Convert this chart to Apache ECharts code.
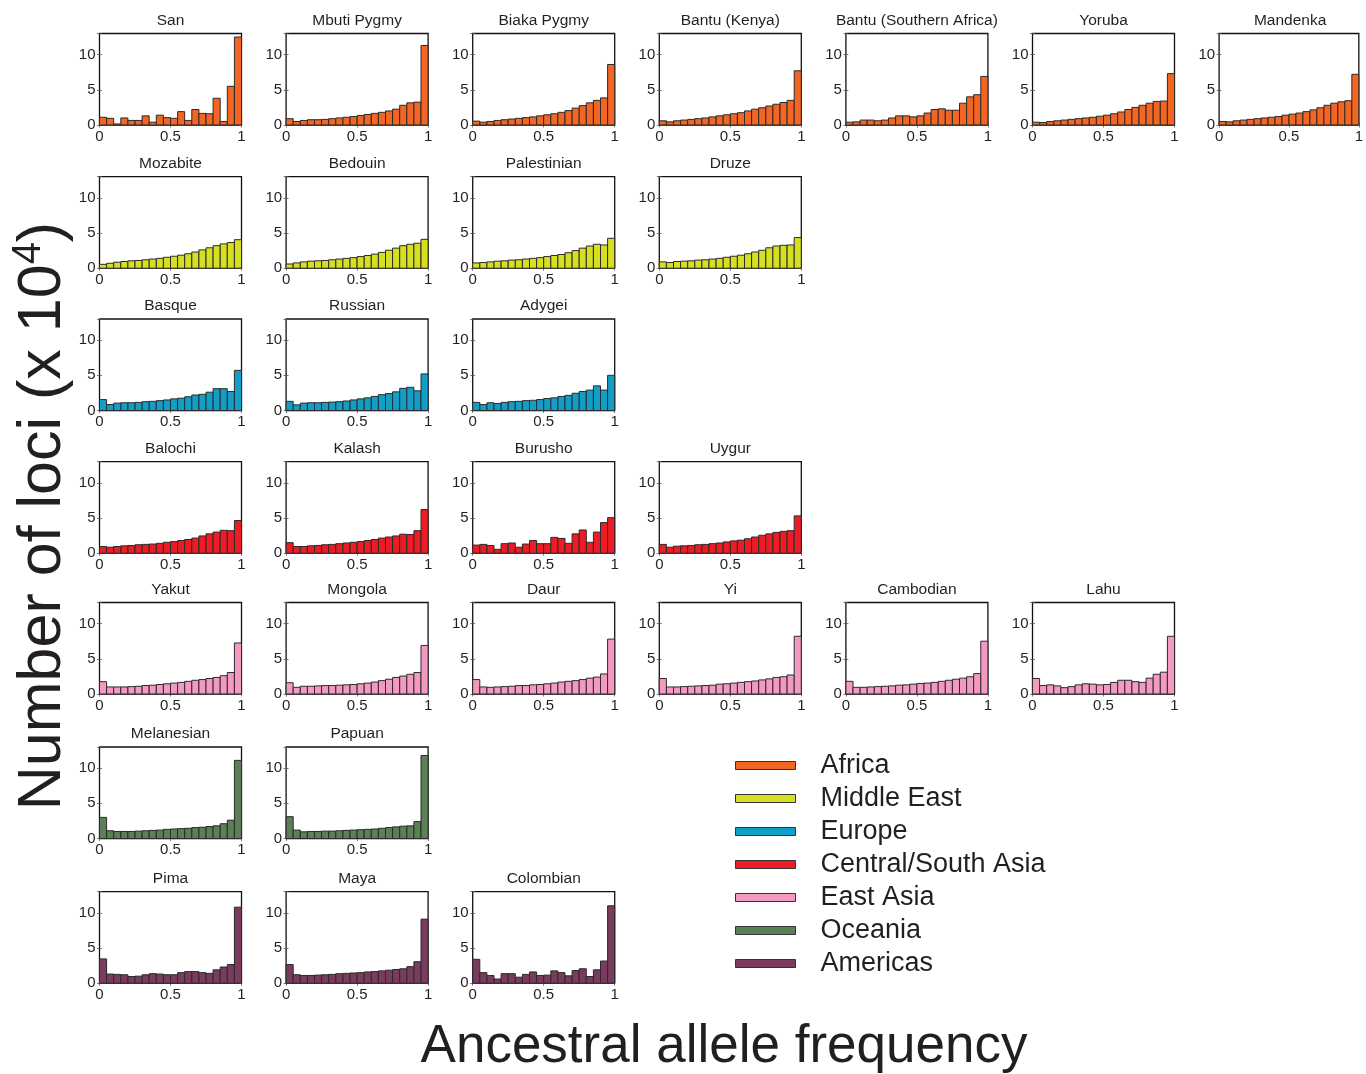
<!DOCTYPE html>
<html><head><meta charset="utf-8">
<script src="https://cdn.jsdelivr.net/npm/echarts@6/dist/echarts.min.js"></script>
<style>html,body{margin:0;padding:0;background:#fff}#c{width:1366px;height:1074px}</style>
</head><body><div id="c"></div>
<script>
// ---- data: number of loci (x 10^4) per ancestral allele frequency bin (20 bins over 0..1) ----
const san        = [1.1,0.95,0.15,1.0,0.65,0.65,1.3,0.4,1.4,1.05,0.95,1.9,0.65,2.2,1.65,1.6,3.8,0.5,5.5,12.5];
const mbutiPygmy = [0.9,0.5,0.65,0.75,0.75,0.8,0.9,1.0,1.1,1.2,1.35,1.5,1.65,1.8,2.0,2.25,2.8,3.15,3.25,11.3];
const biakaPygmy = [0.55,0.4,0.5,0.65,0.75,0.85,0.95,1.05,1.15,1.3,1.45,1.6,1.8,2.05,2.4,2.75,3.15,3.5,3.85,8.6];
const bantuKenya = [0.6,0.45,0.6,0.7,0.8,0.9,1.0,1.15,1.3,1.45,1.6,1.75,2.0,2.25,2.45,2.7,2.95,3.2,3.5,7.7];
const bantuSouth = [0.4,0.45,0.7,0.7,0.6,0.7,1.0,1.3,1.3,1.15,1.3,1.7,2.2,2.3,2.1,2.1,3.1,4.0,4.3,6.9];
const yoruba     = [0.4,0.35,0.5,0.6,0.7,0.8,0.9,1.0,1.1,1.25,1.4,1.6,1.85,2.2,2.5,2.8,3.1,3.35,3.4,7.3];
const mandenka   = [0.5,0.45,0.6,0.7,0.8,0.9,1.0,1.1,1.2,1.4,1.55,1.7,1.9,2.15,2.45,2.8,3.1,3.3,3.45,7.2];
const mozabite   = [0.55,0.7,0.85,0.95,1.05,1.1,1.2,1.3,1.4,1.55,1.7,1.85,2.05,2.3,2.6,2.9,3.2,3.45,3.65,4.05];
const bedouin    = [0.6,0.75,0.9,1.0,1.05,1.1,1.2,1.3,1.4,1.5,1.65,1.8,2.0,2.25,2.55,2.85,3.2,3.4,3.55,4.1];
const palestinian= [0.75,0.8,0.9,1.0,1.05,1.15,1.2,1.3,1.4,1.5,1.65,1.8,1.95,2.2,2.5,2.85,3.15,3.4,3.3,4.25];
const druze      = [0.9,0.8,0.95,1.0,1.05,1.15,1.2,1.3,1.4,1.55,1.7,1.85,2.05,2.3,2.55,2.9,3.15,3.25,3.3,4.35];
const basque     = [1.55,0.85,1.05,1.1,1.1,1.15,1.25,1.3,1.4,1.5,1.65,1.75,1.95,2.2,2.3,2.6,3.1,3.1,2.7,5.7];
const russian    = [1.3,0.8,1.05,1.1,1.1,1.15,1.2,1.25,1.35,1.5,1.65,1.8,2.0,2.25,2.4,2.65,3.15,3.3,2.8,5.2];
const adygei     = [1.15,0.85,1.1,1.0,1.15,1.25,1.3,1.4,1.45,1.55,1.7,1.8,2.0,2.15,2.45,2.7,2.9,3.5,2.9,5.0];
const balochi    = [0.95,0.85,0.95,1.05,1.1,1.2,1.25,1.3,1.4,1.55,1.65,1.8,1.95,2.15,2.45,2.75,3.0,3.25,3.2,4.65];
const kalash     = [1.5,0.95,0.95,1.05,1.1,1.2,1.25,1.35,1.45,1.55,1.65,1.8,1.95,2.15,2.3,2.45,2.7,2.65,3.2,6.2];
const burusho    = [1.15,1.25,1.1,0.55,1.35,1.45,0.85,1.3,1.8,1.35,1.35,2.25,2.1,1.4,2.75,3.3,1.55,3.0,4.35,5.05];
const uygur      = [1.25,0.85,1.0,1.05,1.1,1.2,1.25,1.35,1.45,1.6,1.75,1.85,2.05,2.3,2.55,2.75,2.95,3.1,3.2,5.3];
const yakut      = [1.75,1.0,1.0,1.0,1.05,1.1,1.2,1.25,1.35,1.45,1.55,1.65,1.8,1.95,2.05,2.2,2.35,2.6,3.05,7.25];
const mongola    = [1.6,0.95,1.1,1.1,1.15,1.2,1.2,1.25,1.3,1.35,1.45,1.55,1.7,1.9,2.1,2.35,2.55,2.8,3.05,6.9];
const daur       = [2.05,1.0,0.95,1.0,1.05,1.1,1.2,1.2,1.3,1.35,1.45,1.55,1.7,1.8,1.9,2.05,2.25,2.4,2.85,7.8];
const yi         = [2.2,1.0,1.0,1.05,1.1,1.15,1.2,1.25,1.4,1.45,1.55,1.65,1.75,1.85,2.0,2.15,2.35,2.45,2.7,8.2];
const cambodian  = [1.8,0.95,0.95,1.0,1.05,1.1,1.15,1.25,1.3,1.4,1.5,1.55,1.65,1.8,1.95,2.1,2.25,2.45,2.9,7.5];
const lahu       = [2.2,1.2,1.3,1.15,0.9,1.05,1.3,1.45,1.4,1.3,1.35,1.65,1.95,1.95,1.75,1.65,2.25,2.8,3.1,8.2];
const melanesian = [3.0,1.1,1.0,1.0,1.0,1.05,1.1,1.15,1.2,1.3,1.35,1.4,1.45,1.55,1.6,1.7,1.8,2.1,2.6,11.1];
const papuan     = [3.1,1.2,0.95,1.0,1.0,1.05,1.05,1.1,1.15,1.2,1.25,1.3,1.35,1.45,1.55,1.65,1.75,1.8,2.4,11.8];
const pima       = [3.45,1.3,1.25,1.2,0.95,1.0,1.2,1.35,1.3,1.2,1.2,1.5,1.65,1.65,1.5,1.4,1.9,2.3,2.65,10.8];
const maya       = [2.65,1.2,1.1,1.1,1.15,1.2,1.25,1.35,1.4,1.45,1.5,1.6,1.65,1.75,1.85,1.95,2.05,2.35,3.05,9.1];
const colombian  = [3.4,1.5,1.1,0.6,1.35,1.35,0.85,1.25,1.6,1.1,1.15,1.75,1.5,1.05,1.8,2.05,0.95,1.9,3.15,11.0];

const regions = ['Africa','Middle East','Europe','Central/South Asia','East Asia','Oceania','Americas'];
const regionPops = [
  [['San',san],['Mbuti Pygmy',mbutiPygmy],['Biaka Pygmy',biakaPygmy],['Bantu (Kenya)',bantuKenya],['Bantu (Southern Africa)',bantuSouth],['Yoruba',yoruba],['Mandenka',mandenka]],
  [['Mozabite',mozabite],['Bedouin',bedouin],['Palestinian',palestinian],['Druze',druze]],
  [['Basque',basque],['Russian',russian],['Adygei',adygei]],
  [['Balochi',balochi],['Kalash',kalash],['Burusho',burusho],['Uygur',uygur]],
  [['Yakut',yakut],['Mongola',mongola],['Daur',daur],['Yi',yi],['Cambodian',cambodian],['Lahu',lahu]],
  [['Melanesian',melanesian],['Papuan',papuan]],
  [['Pima',pima],['Maya',maya],['Colombian',colombian]]
];
const xTicks = [0, 0.5, 1];
const yTicks = [0, 5, 10];

// ---- styling / layout ----
const colors = ['#f26522','#d7df23','#119fc8','#ed1c24','#f49ac2','#5b7f57','#7b3b5e'];
const FONT = '"Liberation Sans", Arial, Helvetica, sans-serif';
const TXT = '#231f20';
const colLeft0 = 99.5, colPitch = 186.6, plotW = 142, plotH = 91.5;
const rowTops = [33.5, 176.7, 319, 461.7, 602.5, 747, 891.7];

const grid = [], xAxis = [], yAxis = [], series = [], graphic = [];
const tickStyle = {show:true, inside:true, length:2.5, lineStyle:{color:'#555', width:0.8}};
let gi = 0;
regionPops.forEach((pops, r) => {
  pops.forEach(([name, vals], c) => {
    const left = colLeft0 + c * colPitch, top = rowTops[r];
    grid.push({left: left, top: top, width: plotW, height: plotH, show: true,
      borderColor: '#111', borderWidth: 1.3, backgroundColor: 'transparent'});
    xAxis.push({type:'value', gridIndex: gi, min: 0, max: 1, interval: 0.5, position:'bottom',
      axisLine:{show:false}, splitLine:{show:false}, axisTick: tickStyle,
      axisLabel:{show:true, margin:4, fontFamily:FONT, fontSize:15, color:TXT,
        formatter: v => xTicks.indexOf(v) >= 0 ? String(v) : ''}});
    xAxis.push({type:'value', gridIndex: gi, min: 0, max: 1, interval: 0.5, position:'top',
      axisLine:{show:false}, splitLine:{show:false}, axisLabel:{show:false}, axisTick: tickStyle});
    yAxis.push({type:'value', gridIndex: gi, min: 0, max: 13, interval: 5, position:'left',
      axisLine:{show:false}, splitLine:{show:false}, axisTick: tickStyle,
      axisLabel:{show:true, margin:4, fontFamily:FONT, fontSize:15, color:TXT,
        formatter: v => yTicks.indexOf(v) >= 0 ? String(v) : ''}});
    yAxis.push({type:'value', gridIndex: gi, min: 0, max: 13, interval: 5, position:'right',
      axisLine:{show:false}, splitLine:{show:false}, axisLabel:{show:false}, axisTick: tickStyle});
    const n = vals.length;
    const data = vals.map((v, i) => [i / n, (i + 1) / n, v]);
    series.push({
      type:'custom', name: regions[r], xAxisIndex: 2*gi, yAxisIndex: 2*gi,
      itemStyle:{color: colors[r]},
      encode:{x:[0,1], y:2},
      data: data,
      renderItem: function(params, api){
        const p0 = api.coord([api.value(0), api.value(2)]);
        const p1 = api.coord([api.value(1), 0]);
        return {type:'rect', shape:{x:p0[0], y:p0[1], width:p1[0]-p0[0], height:p1[1]-p0[1]},
          style:{fill: api.visual('color'), stroke:'#2b2b2b', lineWidth:1}};
      }
    });
    graphic.push({type:'text', x: left + plotW/2, y: top - 13,
      style:{text: name, x:0, y:0, align:'center', verticalAlign:'middle', font: '15.5px ' + FONT, fill: TXT}});
    gi++;
  });
});

graphic.push({type:'text', x: 41, y: 516, rotation: Math.PI/2,
  style:{text: '{a|Number of loci (x 10}{b|4}{a|)}', align:'center', verticalAlign:'middle',
    rich:{a:{fontFamily:FONT, fontSize:61, fill:TXT, color:TXT, lineHeight:66, verticalAlign:'bottom'},
          b:{fontFamily:FONT, fontSize:40, fill:TXT, color:TXT, lineHeight:66, verticalAlign:'top', padding:[1,0,0,0]}}}});
graphic.push({type:'text', x: 724, y: 1047,
  style:{text:'Ancestral allele frequency', align:'center', verticalAlign:'middle', font:'53px ' + FONT, fill: TXT}});

const option = {
  animation: false,
  backgroundColor: '#fff',
  grid, xAxis, yAxis, series, graphic,
  legend: {
    orient:'vertical', left: 735, top: 749, padding: 0, itemGap: 0, itemWidth: 60, itemHeight: 8,
    icon:'rect', selectedMode:false,
    itemStyle:{borderColor:'#333', borderWidth:1},
    textStyle:{fontFamily:FONT, fontSize:27, color:TXT, lineHeight:33, padding:[0,0,0,20]},
    data: regions
  }
};
const chart = echarts.init(document.getElementById('c'), null, {renderer:'canvas'});
chart.setOption(option);
</script></body></html>
